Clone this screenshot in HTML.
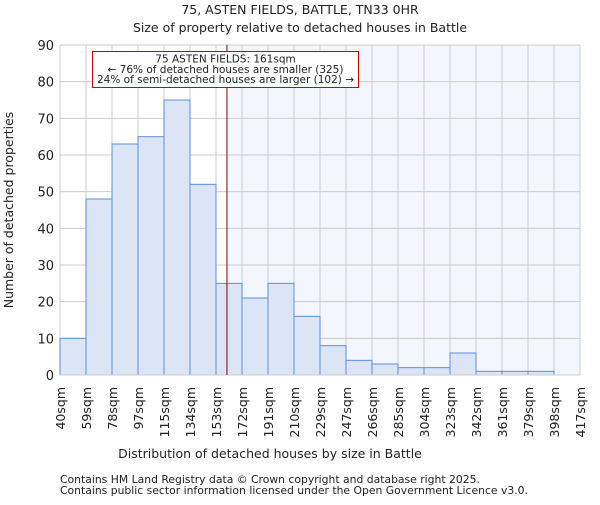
<!DOCTYPE html>
<html><head><meta charset="utf-8"><style>body{margin:0;background:#fff}svg text{font-family:"DejaVu Sans","Liberation Sans",sans-serif;fill:#222}</style></head>
<body>
<svg id="c" width="600" height="500">
<text x="300" y="14" text-anchor="middle" font-size="12.5">75, ASTEN FIELDS, BATTLE, TN33 0HR</text>
<text x="300" y="32" text-anchor="middle" font-size="12.5">Size of property relative to detached houses in Battle</text>
<g id="plot"></g>
<text x="270" y="458" text-anchor="middle" font-size="12.5">Distribution of detached houses by size in Battle</text>
<text transform="translate(13,210) rotate(-90)" text-anchor="middle" font-size="12.5">Number of detached properties</text>
<text x="60" y="483" font-size="10.8">Contains HM Land Registry data © Crown copyright and database right 2025.</text>
<text x="60" y="494" font-size="10.8">Contains public sector information licensed under the Open Government Licence v3.0.</text>
</svg>
<script>
const binLabels=["40sqm","59sqm","78sqm","97sqm","115sqm","134sqm","153sqm","172sqm","191sqm","210sqm","229sqm","247sqm","266sqm","285sqm","304sqm","323sqm","342sqm","361sqm","379sqm","398sqm","417sqm"];
const counts=[10,48,63,65,75,52,25,21,25,16,8,4,3,2,2,6,1,1,1,0];
const yTicks=[0,10,20,30,40,50,60,70,80,90];
const markerIndex=6+8/19;
const L=60,R=580,T=45,B=375,yMax=90;
const bw=(R-L)/counts.length;
const X=i=>L+i*bw, Y=v=>B-(B-T)*v/yMax;
const ns="http://www.w3.org/2000/svg",g=document.getElementById('plot');
function mk(t,a){const e=document.createElementNS(ns,t);for(const k in a)e.setAttribute(k,a[k]);g.appendChild(e);return e;}
const mx=X(markerIndex);
let e=mk('rect',{x:mx,y:T,width:R-mx,height:B-T,fill:'#f3f6fd'});


yTicks.forEach(v=>{let l=mk('line',{x1:L,x2:R,y1:Y(v),y2:Y(v),stroke:'#ccc'});


let t=mk('text',{x:L-6,y:Y(v)+5,'text-anchor':'end','font-size':'13'});t.textContent=v;

});
binLabels.forEach((s,i)=>{let l=mk('line',{x1:X(i),x2:X(i),y1:T,y2:B,stroke:'#ccc'});


let t=mk('text',{transform:`translate(${X(i)+5},${B+12}) rotate(-90)`,'text-anchor':'end','font-size':'12.5'});t.textContent=s;

});
counts.forEach((v,i)=>{if(v<=0)return;let r=mk('rect',{x:X(i),y:Y(v),width:bw,height:B-Y(v),fill:'#dbe5f5',stroke:'#5b8fd8','stroke-width':1});

});
e=mk('line',{x1:L,x2:R,y1:B,y2:B,stroke:'#ccc'});


e=mk('line',{x1:mx,x2:mx,y1:T,y2:B,stroke:'#800','stroke-width':1});


e=mk('rect',{x:92.5,y:51.5,width:266,height:36,fill:'#fff',stroke:'#c00'});


["75 ASTEN FIELDS: 161sqm","← 76% of detached houses are smaller (325)","24% of semi-detached houses are larger (102) →"].forEach((s,k)=>{let t=mk('text',{x:225.5,y:62.5+k*10.3,'text-anchor':'middle','font-size':'10.5'});t.textContent=s;

});
</script>
</body></html>
